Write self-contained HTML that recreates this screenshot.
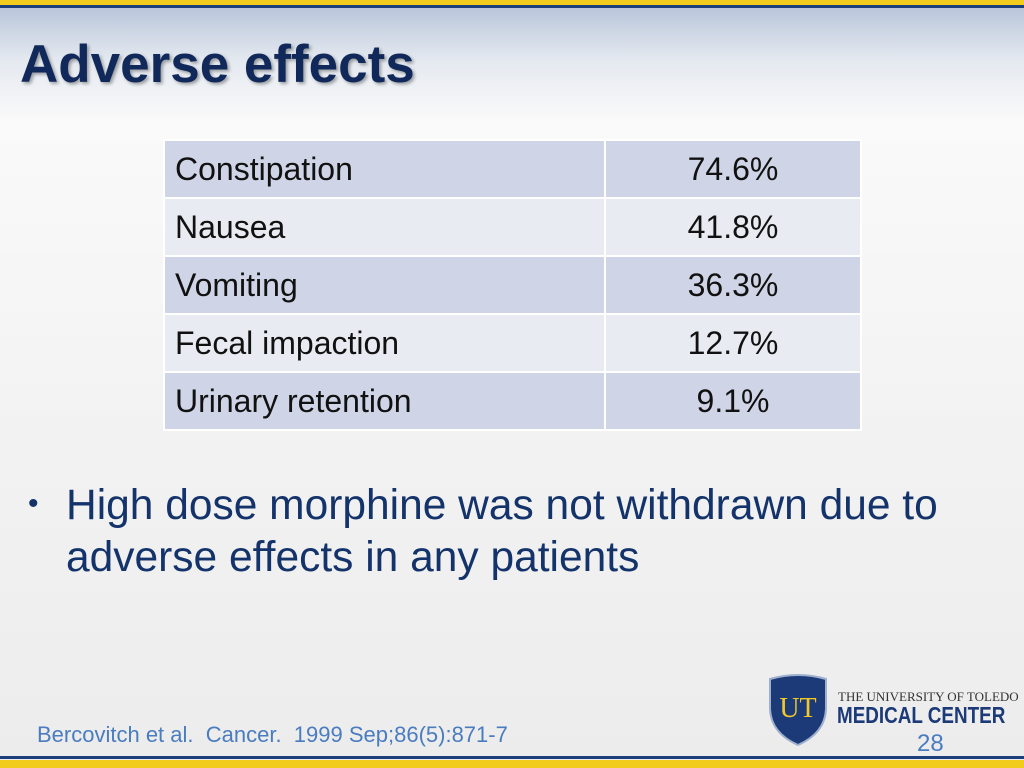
<!DOCTYPE html>
<html><head><meta charset="utf-8">
<style>
html,body{margin:0;padding:0}
body{width:1024px;height:768px;position:relative;overflow:hidden;font-family:"Liberation Sans",sans-serif;
background:linear-gradient(to bottom,#b9c6da 8px,#e4e9f0 60px,#fafafa 120px,#f3f3f3 400px,#ececec 768px)}
.bar{position:absolute;left:0;width:1024px}
h1{position:absolute;left:20px;top:34px;margin:0;font-size:53px;font-weight:bold;color:#10295a;text-shadow:2px 2px 3px rgba(0,0,0,0.35);white-space:nowrap}
table{position:absolute;left:163px;top:139px;border-collapse:collapse;table-layout:fixed}
td{height:56px;border:2px solid #fff;font-size:32px;color:#111;padding:0;font-family:"Liberation Sans",sans-serif;white-space:nowrap}
td.n{width:429px;padding-left:10px}
td.v{width:254px;text-align:center}
tr.a td{background:#cfd5e6}
tr.b td{background:#e8ebf2}
.bullet{position:absolute;left:28px;top:480px;font-size:42.5px;color:#14336b;line-height:52px}
.cite{position:absolute;left:37px;top:722px;font-size:22px;color:#4a7cc0}
.pg{position:absolute;left:917px;top:730px;font-size:24px;color:#4a7cc0}
</style></head><body>
<div class="bar" style="top:0;height:5px;background:#f2cc1c"></div>
<div class="bar" style="top:5px;height:3px;background:#1c3f7a"></div>
<h1>Adverse effects</h1>
<table>
<tr class="a"><td class="n">Constipation</td><td class="v">74.6%</td></tr>
<tr class="b"><td class="n">Nausea</td><td class="v">41.8%</td></tr>
<tr class="a"><td class="n">Vomiting</td><td class="v">36.3%</td></tr>
<tr class="b"><td class="n">Fecal impaction</td><td class="v">12.7%</td></tr>
<tr class="a"><td class="n">Urinary retention</td><td class="v">9.1%</td></tr>
</table>
<div class="bullet"><span style="font-size:30px;position:relative;top:-6px">•</span><span style="position:absolute;left:38px;white-space:nowrap">High dose morphine was not withdrawn due to<br>adverse effects in any patients</span></div>
<div class="cite">Bercovitch et al.&nbsp; Cancer.&nbsp; 1999 Sep;86(5):871-7</div>
<svg style="position:absolute;left:767px;top:673px" width="62" height="74" viewBox="0 0 62 74">
<path d="M3 6 Q31 -2 59 6 L59 36 Q58 60 31 72 Q4 60 3 36 Z" fill="#1c3a78" stroke="#9fb0cf" stroke-width="2"/>
<text x="31" y="44" text-anchor="middle" font-family="Liberation Serif,serif" font-size="28" fill="#f0c928">UT</text>
</svg>
<div style="position:absolute;left:838px;top:689px;font-family:'Liberation Serif',serif;font-size:13px;color:#333;white-space:nowrap">THE UNIVERSITY OF TOLEDO</div>
<div style="position:absolute;left:837px;top:702px;font-size:23px;font-weight:bold;color:#1c3a78;transform:scaleX(0.82);transform-origin:left;white-space:nowrap">MEDICAL CENTER</div>
<div class="pg">28</div>
<div class="bar" style="top:756px;height:3px;background:#1c3f7a"></div>
<div class="bar" style="top:760px;height:8px;background:#f2cc1c"></div>
</body></html>
